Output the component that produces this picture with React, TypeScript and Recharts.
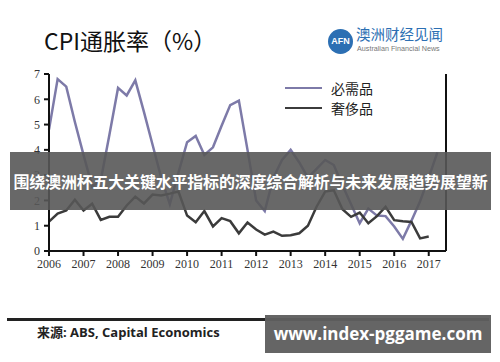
import React from "react";
import {
  LineChart,
  Line,
  XAxis,
  YAxis,
  Legend,
} from "recharts";

// quarterly readings, Q1 2006 onwards (%)
const necessities = [
  4.8, 6.8, 6.5, 5.1, 3.8, 2.55, 2.8, 4.6, 6.45, 6.15, 6.75, 5.5, 4.2, 2.9, 1.85, 3.1,
  4.3, 4.55, 3.8, 4.1, 4.95, 5.77, 5.95, 4.0, 2.0, 1.58, 2.9, 3.6, 4.0, 3.5, 2.9, 3.25,
  3.6, 3.4, 2.6, 1.85, 1.1, 1.68, 1.4, 1.38, 0.97, 0.48, 1.2, 1.97, 2.9, 3.9,
];
const luxuries = [
  1.16, 1.48, 1.6, 2.03, 1.6, 1.87, 1.23, 1.35, 1.35, 1.8, 2.15, 1.88, 2.23, 2.2, 2.27, 2.35,
  1.4, 1.14, 1.58, 0.97, 1.3, 1.18, 0.7, 1.13, 0.85, 0.65, 0.77, 0.6, 0.62, 0.7, 1.0, 1.75,
  2.35, 2.4, 1.65, 1.35, 1.52, 1.1, 1.38, 1.75, 1.22, 1.18, 1.15, 0.5, 0.57, null,
];
const yearTicks = [2006, 2007, 2008, 2009, 2010, 2011, 2012, 2013, 2014, 2015, 2016, 2017];
const valueTicks = [0, 1, 2, 3, 4, 5, 6, 7];

const series = [
  { key: "necessities", name: "必需品", color: "#7d7aa8" },
  { key: "luxuries", name: "奢侈品", color: "#3b3b3b" },
];

const data = necessities.map((v, i) => ({
  t: 2006 + i / 4,
  necessities: v,
  luxuries: luxuries[i],
}));

const tickStyle = { fill: "#333", fontSize: 12, fontFamily: "Liberation Serif" };
const axisStyle = { stroke: "#111", strokeWidth: 2 };

const LegendBox = () => (
  <div style={{ fontFamily: "Noto Sans CJK SC", fontSize: 14, color: "#222", lineHeight: "20px" }}>
    {series.map((s) => (
      <div key={s.key} style={{ display: "flex", alignItems: "center" }}>
        <span style={{ width: 37, height: 2, background: s.color, marginRight: 9, display: "inline-block" }} />
        {s.name}
      </div>
    ))}
  </div>
);

export default function App() {
  return (
    <div
      style={{
        position: "absolute",
        left: 0,
        top: 0,
        width: 500,
        height: 362,
        background: "#fff",
        overflow: "hidden",
        fontFamily: "Noto Sans CJK SC",
      }}
    >
      <div style={{ position: "absolute", left: 44, top: 23, fontSize: 23, color: "#111" }}>
        CPI通胀率（%）
      </div>

      {/* logo */}
      <div
        style={{
          position: "absolute",
          left: 328,
          top: 29,
          width: 25,
          height: 25,
          borderRadius: "50%",
          background: "#2c6fb3",
          color: "#fff",
          fontSize: 9,
          fontWeight: 700,
          fontFamily: "Liberation Sans",
          textAlign: "center",
          lineHeight: "25px",
        }}
      >
        AFN
      </div>
      <div style={{ position: "absolute", left: 356, top: 25, fontSize: 14.5, color: "#2c6fb3", lineHeight: "18px" }}>
        澳洲财经见闻
      </div>
      <div style={{ position: "absolute", left: 357, top: 44, fontSize: 7.2, color: "#777", fontFamily: "Liberation Sans" }}>
        Australian Financial News
      </div>

      <LineChart
        width={500}
        height={362}
        data={data}
        margin={{ top: 74, right: 24, left: 19, bottom: 46 }}
      >
        <XAxis
          dataKey="t"
          type="number"
          domain={[2006, 2017.5]}
          ticks={yearTicks}
          tick={tickStyle}
          axisLine={axisStyle}
          tickLine={axisStyle}
          tickSize={5}
          tickMargin={3}
          height={25}
          interval={0}
        />
        <YAxis
          yAxisId="left"
          domain={[0, 7]}
          ticks={valueTicks}
          tick={tickStyle}
          axisLine={axisStyle}
          tickLine={axisStyle}
          tickSize={5}
          tickMargin={4}
          width={30}
        />
        <YAxis
          yAxisId="right"
          orientation="right"
          domain={[0, 7]}
          ticks={valueTicks}
          tick={tickStyle}
          axisLine={axisStyle}
          tickLine={axisStyle}
          tickSize={5}
          tickMargin={4}
          width={30}
        />
        <Legend content={<LegendBox />} wrapperStyle={{ top: 78, left: 285, width: 120 }} />
        {series.map((s) => (
          <Line
            key={s.key}
            yAxisId="left"
            type="linear"
            dataKey={s.key}
            name={s.name}
            stroke={s.color}
            strokeWidth={2.5}
            dot={false}
            isAnimationActive={false}
          />
        ))}
      </LineChart>

      {/* overlay banner */}
      <div
        style={{
          position: "absolute",
          left: 10,
          top: 152,
          width: 481,
          height: 58,
          background: "rgba(88,88,88,0.9)",
          color: "#fff",
          fontSize: 16,
          fontWeight: 700,
          lineHeight: "58px",
          textAlign: "center",
          letterSpacing: -0.2,
          whiteSpace: "nowrap",
        }}
      >
        围绕澳洲杯五大关键水平指标的深度综合解析与未来发展趋势展望新
      </div>

      <div style={{ position: "absolute", left: 7, top: 318, width: 482, height: 2.5, background: "#222" }} />
      <div
        style={{
          position: "absolute",
          left: 37,
          top: 322,
          fontSize: 13,
          fontWeight: 700,
          color: "#222",
          fontFamily: "Open Sans, Noto Sans CJK SC",
        }}
      >
        来源: ABS, Capital Economics
      </div>
      <div
        style={{
          position: "absolute",
          left: 265,
          top: 315,
          width: 226,
          height: 38,
          background: "rgba(95,95,95,0.96)",
          color: "#fff",
          fontSize: 17,
          fontWeight: 700,
          fontFamily: "Open Sans",
          lineHeight: "38px",
          textAlign: "center",
          whiteSpace: "nowrap",
        }}
      >
        www.index-pggame.com
      </div>
    </div>
  );
}
